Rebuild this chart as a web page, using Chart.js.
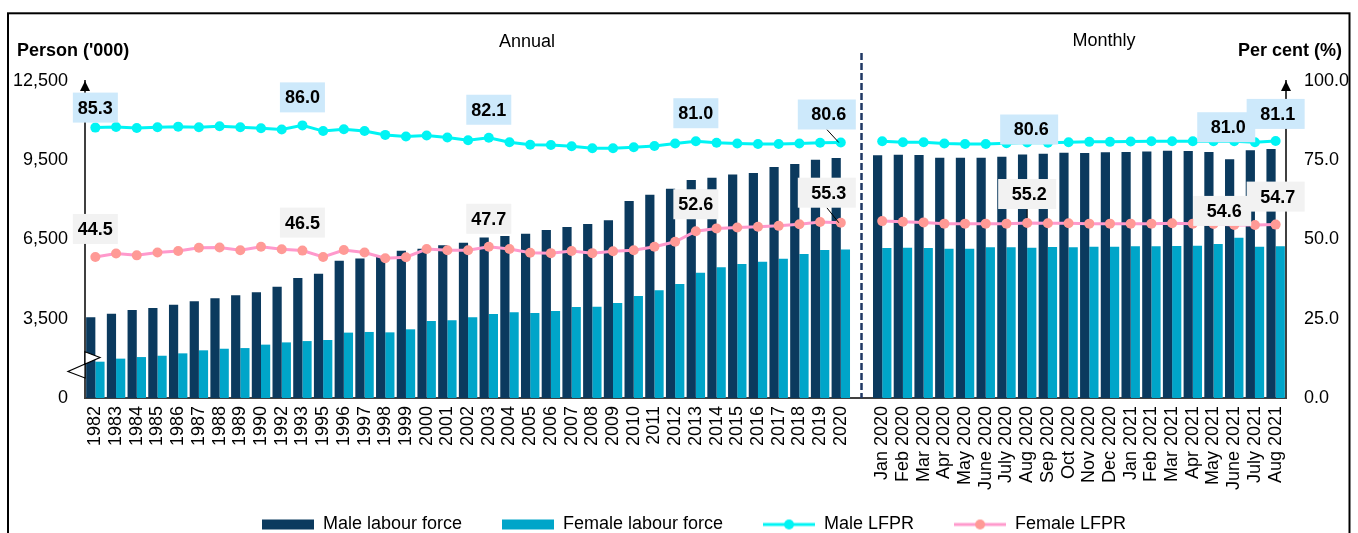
<!DOCTYPE html>
<html><head><meta charset="utf-8">
<script src="https://cdn.jsdelivr.net/npm/chart.js@4.4.1/dist/chart.umd.min.js"></script>
<style>html,body{margin:0;padding:0;background:#fff}#wrap{width:1358px;height:533px;position:relative}</style>
</head><body><div id="wrap"><canvas id="c" width="1358" height="533"></canvas></div>
<script>
// ---------- DATA ----------
const annualYears = ['1982','1983','1984','1985','1986','1987','1988','1989','1990','1992','1993','1995','1996','1997','1998','1999','2000','2001','2002','2003','2004','2005','2006','2007','2008','2009','2010','2011','2012','2013','2014','2015','2016','2017','2018','2019','2020'];
const monthLabels = ['Jan 2020','Feb 2020','Mar 2020','Apr 2020','May 2020','June 2020','July 2020','Aug 2020','Sep 2020','Oct 2020','Nov 2020','Dec 2020','Jan 2021','Feb 2021','Mar 2021','Apr 2021','May 2021','June 2021','July 2021','Aug 2021'];

const maleLabourAnnual = [3560,3690,3830,3905,4030,4160,4275,4385,4500,4715,5040,5205,5700,5785,5875,6075,6150,6280,6380,6580,6630,6720,6860,6975,7085,7225,7955,8195,8425,8750,8840,8965,9015,9245,9355,9520,9585];
const femaleLabourAnnual = [1875,1990,2050,2100,2190,2305,2365,2390,2520,2605,2655,2695,2975,3000,2985,3100,3415,3440,3555,3680,3745,3715,3795,3945,3955,4095,4360,4575,4815,5245,5445,5570,5660,5775,5950,6100,6125];
const maleLfprAnnual = [85.3,85.5,85.2,85.4,85.6,85.4,85.7,85.4,85.1,84.7,86.0,84.2,84.8,84.2,83.0,82.5,82.8,82.2,81.3,82.1,80.7,79.9,79.8,79.4,78.8,78.8,79.1,79.5,80.3,81.0,80.5,80.3,80.1,80.1,80.3,80.5,80.6];
const femaleLfprAnnual = [44.5,45.6,45.0,45.9,46.4,47.4,47.5,46.6,47.7,46.9,46.5,44.5,46.7,45.9,44.1,44.4,47.0,46.6,46.6,47.7,47.0,45.8,45.7,46.4,45.7,46.3,46.6,47.7,49.3,52.6,53.5,53.8,54.0,54.3,54.8,55.5,55.3];

const maleLabourMonthly = [9685,9710,9695,9595,9595,9595,9635,9720,9750,9785,9775,9800,9810,9835,9860,9850,9810,9535,9875,9925];
const femaleLabourMonthly = [6180,6190,6180,6150,6150,6205,6205,6190,6215,6205,6230,6230,6240,6240,6255,6265,6330,6570,6230,6240];
const maleLfprMonthly = [81.0,80.7,80.7,80.3,80.1,80.1,80.4,80.6,80.5,80.7,80.8,80.8,80.9,81.0,81.0,81.0,81.0,81.0,80.7,81.1];
const femaleLfprMonthly = [55.8,55.6,55.4,55.0,55.0,55.0,55.0,55.2,55.1,55.1,55.0,55.0,55.0,55.0,55.1,55.0,54.9,54.6,54.6,54.7];

const leftTicks = [500, 3500, 6500, 9500, 12500];   // bottom tick shown as "0" (broken axis)
const rightTicks = [0, 25, 50, 75, 100];

// ---------- BUILD ----------
const categories = [...annualYears, '', ...monthLabels];
const gapIndex = annualYears.length;
const join = (a, m) => [...a, null, ...m];
const maleLabour = join(maleLabourAnnual, maleLabourMonthly);
const femaleLabour = join(femaleLabourAnnual, femaleLabourMonthly);
const maleLfpr = join(maleLfprAnnual, maleLfprMonthly);
const femaleLfpr = join(femaleLfprAnnual, femaleLfprMonthly);

const FONT = '"Liberation Sans", Arial, sans-serif';
const C_MALE_BAR = '#0b3a5e', C_FEM_BAR = '#00a5c9';
const C_MALE_LINE = '#00f4f4', C_FEM_LINE = '#ff99cc', C_FEM_DOT = '#ff9a96';

// callout labels: dataset index, category index, offsets (style)
const m = gapIndex + 1;
const callouts = [
  {ds:2, i:0, dx:0, dy:-20, w:45},
  {ds:2, i:10, dx:0, dy:-28, w:45},
  {ds:2, i:19, dx:0, dy:-28, w:45},
  {ds:2, i:29, dx:0, dy:-28, w:45},
  {ds:2, i:36, dx:-14, dy:-28, w:58, leader:true},
  {ds:2, i:m+7, dx:2, dy:-13, w:58},
  {ds:2, i:m+17, dx:-8, dy:-14, w:58},
  {ds:2, i:m+19, dx:0, dy:-27, w:58},
  {ds:3, i:0, dx:0, dy:-28, w:45},
  {ds:3, i:10, dx:0, dy:-28, w:45},
  {ds:3, i:19, dx:0, dy:-28, w:45},
  {ds:3, i:29, dx:0, dy:-27, w:45},
  {ds:3, i:36, dx:-14, dy:-30, w:58, leader:true},
  {ds:3, i:m+7, dx:0, dy:-29, w:58, leader:true},
  {ds:3, i:m+17, dx:-12, dy:-14, w:58},
  {ds:3, i:m+19, dx:0, dy:-28, w:58},
];

function legendImg(kind, color, dot) {
  const c = document.createElement('canvas'); c.width = 52; c.height = 12;
  const g = c.getContext('2d');
  if (kind === 'bar') { g.fillStyle = color; g.fillRect(0, 1, 52, 10); }
  else {
    g.strokeStyle = color; g.lineWidth = 3; g.beginPath(); g.moveTo(0, 6); g.lineTo(52, 6); g.stroke();
    g.fillStyle = dot; g.beginPath(); g.arc(26, 6, 5, 0, Math.PI * 2); g.fill();
  }
  return c;
}
const legendImages = [legendImg('bar', C_MALE_BAR), legendImg('bar', C_FEM_BAR), legendImg('line', C_MALE_LINE, C_MALE_LINE), legendImg('line', C_FEM_LINE, C_FEM_DOT)];

const decor = {
  id: 'decor',
  afterLayout(chart) {
    const lg = chart.legend;
    if (lg) { const h = lg.height; lg.top = 475.5; lg.bottom = lg.top + h; lg.left = 30; lg.right = 1358; lg.width = 1328; }
  },
  afterDatasetsDraw(chart) {
    const ctx = chart.ctx;
    ctx.save();
    ctx.font = 'bold 18px ' + FONT; ctx.textAlign = 'center'; ctx.textBaseline = 'middle';
    for (const c of callouts) {
      const pt = chart.getDatasetMeta(c.ds).data[c.i];
      const v = chart.data.datasets[c.ds].data[c.i];
      const cx = pt.x + c.dx, cy = pt.y + c.dy;
      if (c.leader) {
        ctx.strokeStyle = '#000'; ctx.lineWidth = 1;
        ctx.beginPath(); ctx.moveTo(cx, cy + 15); ctx.lineTo(pt.x - (c.dx ? 2 : 0), pt.y - (c.dx ? 0 : 5)); ctx.stroke();
      }
      ctx.fillStyle = c.ds === 2 ? '#cde9fb' : '#f2f2f2';
      ctx.fillRect(cx - c.w / 2, cy - 15, c.w, 30);
      ctx.fillStyle = '#000';
      ctx.fillText(v.toFixed(1), cx + (c.w > 50 ? 2 : 0), cy + 1);
    }
    ctx.restore();
  },
  afterDraw(chart) {
    const ctx = chart.ctx, a = chart.chartArea;
    ctx.save();
    // frame
    ctx.strokeStyle = '#000'; ctx.lineWidth = 2;
    ctx.strokeRect(8, 13.3, 1341.5, 540);
    // titles
    ctx.fillStyle = '#000'; ctx.textBaseline = 'middle';
    ctx.font = 'bold 18px ' + FONT;
    ctx.textAlign = 'left'; ctx.fillText("Person ('000)", 17, 51);
    ctx.textAlign = 'right'; ctx.fillText('Per cent (%)', 1342, 51);
    ctx.font = '18px ' + FONT; ctx.textAlign = 'center';
    ctx.fillText('Annual', 527, 42);
    ctx.fillText('Monthly', 1104, 41);
    // divider
    const xs = chart.scales.x.getPixelForValue(gapIndex);
    ctx.strokeStyle = '#1f3864'; ctx.lineWidth = 2.5; ctx.setLineDash([7, 3]);
    ctx.beginPath(); ctx.moveTo(xs, 53); ctx.lineTo(xs, a.bottom); ctx.stroke();
    ctx.setLineDash([]);
    // axis arrows
    ctx.fillStyle = '#000';
    for (const x of [a.left, a.right]) {
      ctx.beginPath(); ctx.moveTo(x, a.top); ctx.lineTo(x - 5, a.top + 10); ctx.lineTo(x + 5, a.top + 10); ctx.closePath(); ctx.fill();
    }
    // axis break symbol
    ctx.fillStyle = '#fff'; ctx.strokeStyle = '#000'; ctx.lineWidth = 1.2;
    const L = a.left;
    ctx.beginPath(); ctx.moveTo(L, 351.7); ctx.lineTo(L + 15, 357.5); ctx.lineTo(L, 364); ctx.closePath(); ctx.fill(); ctx.stroke();
    ctx.beginPath(); ctx.moveTo(L, 364); ctx.lineTo(L - 17, 371.5); ctx.lineTo(L, 378); ctx.closePath(); ctx.fill(); ctx.stroke();
    ctx.restore();
  }
};

Chart.defaults.font.family = FONT;
Chart.defaults.font.size = 18;
Chart.defaults.color = '#000';

new Chart(document.getElementById('c'), {
  type: 'bar',
  data: {
    labels: categories,
    datasets: [
      {label: 'Male labour force', data: maleLabour, backgroundColor: C_MALE_BAR, yAxisID: 'y', order: 2, categoryPercentage: 0.89, barPercentage: 1},
      {label: 'Female labour force', data: femaleLabour, backgroundColor: C_FEM_BAR, yAxisID: 'y', order: 2, categoryPercentage: 0.89, barPercentage: 1},
      {type: 'line', label: 'Male LFPR', data: maleLfpr, yAxisID: 'y1', order: 1, borderColor: C_MALE_LINE, backgroundColor: C_MALE_LINE,
        pointBackgroundColor: C_MALE_LINE, pointBorderColor: C_MALE_LINE, pointRadius: 5, pointBorderWidth: 0, borderWidth: 3, spanGaps: false, tension: 0},
      {type: 'line', label: 'Female LFPR', data: femaleLfpr, yAxisID: 'y1', order: 1, borderColor: C_FEM_LINE, backgroundColor: C_FEM_DOT,
        pointBackgroundColor: C_FEM_DOT, pointBorderColor: C_FEM_DOT, pointRadius: 5, pointBorderWidth: 0, borderWidth: 3, spanGaps: false, tension: 0}
    ]
  },
  options: {
    responsive: false, animation: false,
    layout: {padding: {left: 0, right: 0, top: 81, bottom: -48}},
    plugins: {
      tooltip: {enabled: false},
      legend: {
        position: 'bottom',
        labels: {
          usePointStyle: true, pointStyleWidth: 52, padding: 40, color: '#000', font: {size: 18},
          sort: (a, b) => a.datasetIndex - b.datasetIndex,
          generateLabels(chart) {
            const items = Chart.defaults.plugins.legend.labels.generateLabels(chart);
            items.forEach(it => { it.pointStyle = legendImages[it.datasetIndex]; });
            return items;
          }
        }
      }
    },
    scales: {
      x: {
        offset: true,
        grid: {display: false, drawTicks: false},
        border: {display: true, color: '#404040', width: 2},
        ticks: {autoSkip: false, maxRotation: 90, minRotation: 90, padding: 8, color: '#000', font: {size: 18}},
        afterFit(s) { s.height = 115; }
      },
      y: {
        position: 'left', min: leftTicks[0], max: leftTicks[leftTicks.length - 1],
        grid: {display: false, drawTicks: false},
        border: {display: true, color: '#404040', width: 2},
        afterBuildTicks(s) { s.ticks = leftTicks.map(v => ({value: v})); },
        ticks: {padding: 17, color: '#000', font: {size: 18}, callback: v => v === leftTicks[0] ? '0' : v.toLocaleString('en-US')},
        afterFit(s) { s.width = 85; }
      },
      y1: {
        position: 'right', min: rightTicks[0], max: rightTicks[rightTicks.length - 1],
        grid: {display: false, drawTicks: false},
        border: {display: true, color: '#404040', width: 2},
        afterBuildTicks(s) { s.ticks = rightTicks.map(v => ({value: v})); },
        ticks: {padding: 18, color: '#000', font: {size: 18}, callback: v => v.toFixed(1)},
        afterFit(s) { s.width = 72; }
      }
    }
  },
  plugins: [decor]
});
</script></body></html>
